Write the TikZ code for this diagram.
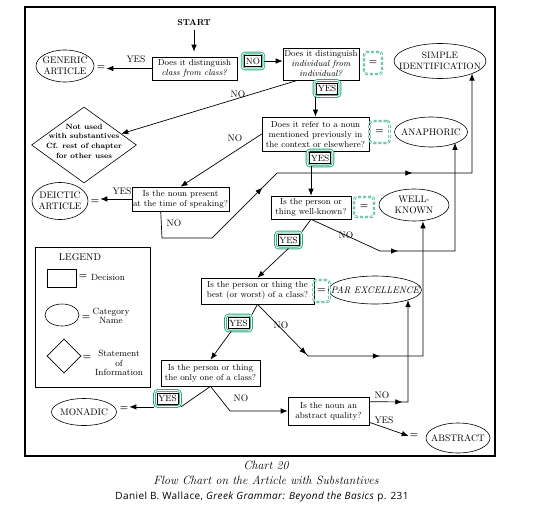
\documentclass[tikz,border=0pt]{standalone}
\usepackage{fontspec}
\newfontfamily\capfont[LetterSpace=4]{Open Sans}
\usetikzlibrary{arrows.meta,shapes.geometric,fit,calc,decorations.markings}
\definecolor{gcol}{RGB}{40,172,122}
\newcommand\fsz[2]{\fontsize{#1}{#2}\selectfont}
\begin{document}
\begin{tikzpicture}[x=1pt,y=-1pt,
  box/.style={draw, line width=0.6pt, align=center, inner sep=1pt, font=\fsz{8.7}{10}},
  cat/.style={ellipse, draw, line width=0.6pt, inner sep=0pt},
  catt/.style={align=center, inner sep=0pt, font=\fsz{9.5}{11}},
  lbl/.style={font=\fsz{9.5}{10}, inner sep=1pt},
  eqs/.style={font=\fsz{9}{10}\bfseries, inner sep=1pt},
  gin/.style={draw, line width=0.5pt, inner sep=1.3pt, minimum height=11pt, font=\fsz{9}{10}},
  gfr/.style={draw=gcol, line width=0.9pt, double=white, double distance=0.9pt, rounded corners=3pt, inner sep=2.2pt},
  geq/.style={draw=gcol, line width=0.7pt, double=white, double distance=0.8pt, dash pattern=on 3pt off 2pt, rounded corners=3pt, minimum width=#1, minimum height=22pt, inner sep=0pt, font=\fsz{9}{10}\bfseries},
  con/.style={line width=0.7pt},
  arr/.style={con, -{Latex[length=7pt,width=5.5pt]}},
  ma/.style={postaction={decorate,decoration={markings,mark=at position #1 with {\arrow{Latex[length=7pt,width=5.5pt]}}}}},
  diat/.style={align=center, inner sep=0pt, font=\fsz{7.6}{9.6}\bfseries},
]
\useasboundingbox[fill=white] (0,0) rectangle (540,508);
\draw[line width=1.6pt] (25,7) rectangle (495,456);

% decision boxes
\node[font=\fsz{8.6}{10}\bfseries] (start) at (194,23) {START};
\node[box, minimum width=85pt, minimum height=23pt] (b1) at (194.5,68.5) {Does it distinguish\\\textit{class from class?}};
\node[box, minimum width=76pt, minimum height=32pt] (b2) at (321,64) {Does it distinguish\\\textit{individual from}\\\textit{individual?}};
\node[box, minimum width=107pt, minimum height=34pt] (b3) at (315.5,134) {Does it refer to a noun\\mentioned previously in\\the context or elsewhere?};
\node[box, minimum width=80pt, minimum height=23pt] (b4) at (311,207.5) {Is the person or\\thing well-known?};
\node[box, minimum width=113pt, minimum height=26pt] (b5) at (257.5,291) {Is the person or thing the\\best (or worst) of a class?};
\node[box, minimum width=95pt, minimum height=24pt] (b6) at (180.5,199) {Is the noun present\\at the time of speaking?};
\node[box, minimum width=99pt, minimum height=26pt] (b7) at (210.5,373) {Is the person or thing\\the only one of a class?};
\node[box, minimum width=81pt, minimum height=28pt] (b8) at (328.5,411) {Is the noun an\\abstract quality?};

% category ellipses
\node[cat, minimum width=58pt, minimum height=32pt, label={[catt]center:GENERIC\\ARTICLE}] (generic) at (65,66) {};
\node[cat, minimum width=92pt, minimum height=35pt, label={[catt, font=\fsz{9.2}{11}]center:SIMPLE\\IDENTIFICATION}] (simple) at (440,61) {};
\node[cat, minimum width=73pt, minimum height=30pt, label={[catt]center:ANAPHORIC}] (anaph) at (431,132) {};
\node[cat, minimum width=70pt, minimum height=32pt, label={[catt]center:WELL-\\KNOWN}] (wellk) at (414,205) {};
\node[cat, minimum width=93pt, minimum height=28pt, label={[catt, font=\fsz{9.5}{11}\itshape]center:PAR EXCELLENCE}] (parex) at (375,290) {};
\node[cat, minimum width=56pt, minimum height=37pt, label={[catt]center:DEICTIC\\ARTICLE}] (deictic) at (60,201) {};
\node[cat, minimum width=65pt, minimum height=27pt, label={[catt]center:MONADIC}] (monadic) at (84,412) {};
\node[cat, minimum width=64pt, minimum height=30pt, label={[catt]center:ABSTRACT}] (abstract) at (458,438) {};

% statement diamond
\node[diamond, draw, line width=0.6pt, minimum width=105pt, minimum height=76pt, inner sep=0pt,
  label={[diat, yshift=4pt]center:Not used\\with substantives\\Cf. rest of chapter\\for other uses}] (dia) at (84,145) {};

% equals signs
\node[eqs] (eq1) at (101,68) {=};
\node[eqs] (eq6) at (95,202) {=};
\node[eqs] (eq7) at (124,409) {=};
\node[eqs] (eq8) at (414,436) {=};
\node[geq=18pt] (g2) at (373,63) {=};
\node[geq=20pt] (g3) at (379.5,132) {=};
\node[geq=20pt, minimum height=20pt] (g4) at (364,207) {=};
\node[geq=16pt] (g5) at (321.5,291) {=};

% green highlighted answers
\node[gin] (no1) at (253,61) {NO};
\node[gfr, fit=(no1)] (no1f) {};
\node[gin] (yes2) at (327,88.5) {YES};
\node[gfr, fit=(yes2)] (yes2f) {};
\node[gin] (yes3) at (320,158) {YES};
\node[gfr, fit=(yes3)] (yes3f) {};
\node[gin] (yes4) at (288.5,240) {YES};
\node[gfr, fit=(yes4)] (yes4f) {};
\node[gin] (yes5) at (238.5,323) {YES};
\node[gfr, fit=(yes5)] (yes5f) {};
\node[gin] (yes7) at (167.5,398.5) {YES};
\node[gfr, fit=(yes7)] (yes7f) {};

% labels
\node[lbl] (l1) at (136,59) {YES};
\node[lbl] (l2) at (238,94) {NO};
\node[lbl] (l3) at (235,138) {NO};
\node[lbl] (l6y) at (122,191) {YES};
\node[lbl] (l6n) at (174,223) {NO};
\node[lbl] (l4n) at (346,235) {NO};
\node[lbl] (l5n) at (281,325) {NO};
\node[lbl] (l7n) at (241,398) {NO};
\node[lbl] (l8n) at (382,395) {NO};
\node[lbl] (l8y) at (384,420) {YES};

% coordinates
\coordinate (c4a) at (380,251);
\coordinate (c4b) at (455,251);
\coordinate (c5a) at (308,356);
\coordinate (c5b) at (423,356);
\coordinate (c6a) at (162,238);
\coordinate (c6b) at (212,238);
\coordinate (c6c) at (277,173);
\coordinate (c6d) at (472,173);
\coordinate (c7) at (230,411);
\coordinate (c8) at (408,402);

% connectors
\draw[arr] (start.south) -- ($(start.south |- b1.north)+(0,-5)$);
\draw[arr] (b1.west) -- (b1.west -| eq1.east);
\draw[arr] (no1f.east) -- (no1f.east -| b2.west);
\draw[arr] ($(b2.south west)+(15,0)$) -- (dia);
\draw[arr] (yes2f.south -| b3.north) -- (b3.north);
\draw[arr] (b3.west) -- (b6.north);
\draw[arr] (yes3f.south -| b4.north) -- (b4.north);
\draw[arr] (b6.west) -- (b6.west -| eq6.east);
\draw[arr, ma=148pt, ma=304pt] ($(b6.south west)+(29,0)$) -- (c6a) -- (c6b) -- (c6c) -- (c6d) -- (c6d |- simple.south east);
\draw[con] (b4.south) -- (yes4f.north east);
\draw[arr] (yes4f.south) -- (b5.north);
\draw[arr, ma=94pt] (b4.south) -- (c4a) -- (c4b) -- (c4b |- anaph.south east);
\draw[con] (b5.south) -- (yes5f.north east);
\draw[arr] ($(yes5f.south west)+(6,0)$) -- (b7.north);
\draw[arr, ma=70pt, ma=144pt] (b5.south) -- (c5a) -- (c5b) -- (c5b |- wellk.south);
\draw[con] (b7.south) -- (yes7f.south east);
\draw[arr] (yes7f.south west) -- (yes7f.south west -| eq7.east);
\draw[arr] (b7.south) -- (c7) -- (b8.west);
\draw[arr, ma=33pt] ($(b8.north east)+(0,5)$) -- (c8) -- (c8 |- parex.south east);
\draw[arr] ($(b8.south east)+(0,-3)$) -- (eq8.west);

% legend
\draw[line width=1pt] (35,247) rectangle (150,387);
\node[font=\fsz{9.8}{11}] (legT) at (80,257) {LEGEND};
\node[draw, line width=0.6pt, minimum width=29pt, minimum height=18pt, inner sep=0pt] (legR) at (61.5,278) {};
\node[eqs] (legE1) at (83,277) {=};
\node[font=\fsz{9}{10}] (legD) at (108,277) {Decision};
\node[ellipse, draw, line width=0.6pt, minimum width=34pt, minimum height=22pt, inner sep=0pt] (legC) at (62,315) {};
\node[eqs] (legE2) at (86,318) {=};
\node[font=\fsz{9}{9.5}, align=center] (legN) at (111,316) {Category\\Name};
\node[diamond, draw, line width=0.6pt, minimum width=34pt, minimum height=34pt, inner sep=0pt] (legS) at (64,356) {};
\node[eqs] (legE3) at (87,358) {=};
\node[font=\fsz{9}{9.5}, align=center] (legI) at (119,363) {Statement\\of\\Information};

% captions
\node[font=\fsz{12}{14}\itshape] (cap1) at (266,465) {Chart 20};
\node[font=\fsz{12}{14}\itshape] (cap2) at (266,480) {Flow Chart on the Article with Substantives};
\node[font={\capfont\fsz{10}{12}}] (cap3) at (262,497) {Daniel B. Wallace, \textit{Greek Grammar: Beyond the Basics} p. 231};
\end{tikzpicture}
\end{document}
